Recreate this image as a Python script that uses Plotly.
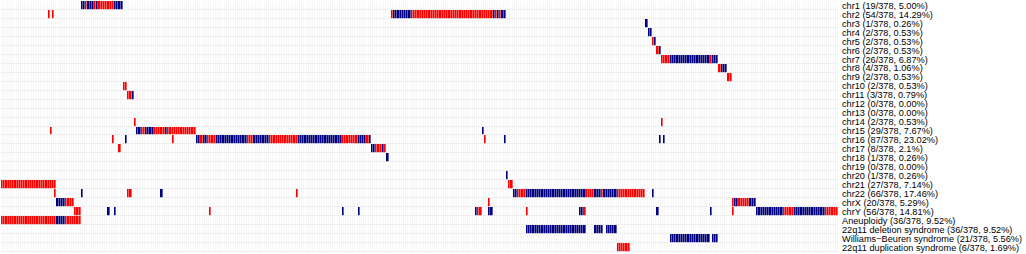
import plotly.graph_objects as go
import numpy as np

N_SAMPLES = 378

row_labels = [
    "chr1 (19/378, 5.00%)", "chr2 (54/378, 14.29%)", "chr3 (1/378, 0.26%)",
    "chr4 (2/378, 0.53%)", "chr5 (2/378, 0.53%)", "chr6 (2/378, 0.53%)",
    "chr7 (26/378, 6.87%)", "chr8 (4/378, 1.06%)", "chr9 (2/378, 0.53%)",
    "chr10 (2/378, 0.53%)", "chr11 (3/378, 0.79%)", "chr12 (0/378, 0.00%)",
    "chr13 (0/378, 0.00%)", "chr14 (2/378, 0.53%)", "chr15 (29/378, 7.67%)",
    "chr16 (87/378, 23.02%)", "chr17 (8/378, 2.1%)", "chr18 (1/378, 0.26%)",
    "chr19 (0/378, 0.00%)", "chr20 (1/378, 0.26%)", "chr21 (27/378, 7.14%)",
    "chr22 (66/378, 17.46%)", "chrX (20/378, 5.29%)", "chrY (56/378, 14.81%)",
    "Aneuploidy (36/378, 9.52%)", "22q11 deletion syndrome (36/378, 9.52%)",
    "Williams\u2212Beuren syndrome (21/378, 5.56%)",
    "22q11 duplication syndrome (6/378, 1.69%)",
]

# sample-index runs per row: (first sample, last sample, status) R = gain, B = loss
chr1 = [(36, 37, "B"), (38, 38, "R"), (39, 41, "B"), (42, 42, "R"), (43, 43, "B"),
        (44, 50, "R"), (51, 54, "B")]
chr2 = [(21, 21, "R"), (23, 23, "R"), (176, 176, "R"), (177, 184, "B"), (185, 221, "R"),
        (222, 222, "B"), (223, 223, "R"), (224, 224, "B"), (225, 225, "R"), (226, 227, "B")]
chr3 = [(291, 291, "B")]
chr4 = [(292, 293, "B")]
chr5 = [(294, 294, "R"), (295, 295, "B")]
chr6 = [(296, 296, "R"), (297, 297, "B")]
chr7 = [(298, 301, "R"), (302, 319, "B"), (320, 320, "R"), (321, 323, "B")]
chr8 = [(324, 324, "R"), (325, 327, "B")]
chr9 = [(328, 329, "R")]
chr10 = [(55, 56, "R")]
chr11 = [(57, 58, "R"), (59, 59, "B")]
chr12 = []
chr13 = []
chr14 = [(60, 60, "R"), (298, 298, "R")]
chr15 = [(22, 22, "R"), (61, 62, "B"), (63, 64, "R"), (65, 68, "B"), (69, 73, "R"),
         (74, 74, "B"), (75, 87, "R"), (217, 217, "B")]
chr16 = [(50, 50, "R"), (56, 56, "B"), (77, 77, "R"), (88, 89, "B"), (90, 90, "R"),
         (91, 92, "B"), (93, 96, "R"), (97, 110, "B"), (111, 113, "R"), (114, 120, "B"),
         (121, 133, "R"), (134, 153, "B"), (154, 160, "R"), (161, 164, "B"),
         (165, 165, "R"), (166, 166, "B"), (218, 218, "R"), (227, 227, "B"),
         (297, 297, "B"), (299, 299, "B")]
chr17 = [(53, 53, "R"), (167, 168, "B"), (169, 171, "R"), (172, 172, "B"), (173, 173, "R")]
chr18 = [(174, 174, "B")]
chr19 = []
chr20 = [(228, 228, "B")]
chr21 = [(0, 24, "R"), (229, 230, "R")]
chr22 = [(24, 24, "R"), (36, 36, "B"), (57, 58, "R"), (72, 72, "B"), (133, 133, "R"),
         (231, 232, "B"), (233, 236, "R"), (237, 263, "B"), (264, 267, "R"),
         (268, 270, "B"), (271, 271, "R"), (272, 277, "B"), (278, 290, "R"), (294, 294, "B")]
chrX = [(25, 28, "B"), (29, 32, "R"), (220, 220, "R"), (330, 330, "R"), (331, 332, "B"),
        (333, 337, "R"), (338, 340, "B")]
chrY = [(33, 35, "R"), (48, 48, "B"), (51, 51, "B"), (94, 94, "R"), (154, 154, "B"),
        (161, 161, "B"), (214, 214, "B"), (215, 216, "R"), (220, 221, "B"), (237, 237, "R"),
        (261, 262, "B"), (263, 263, "R"), (296, 296, "B"), (320, 320, "B"), (330, 330, "R"),
        (341, 352, "B"), (353, 357, "R"), (358, 371, "B"), (372, 377, "R")]
aneuploidy = [(0, 24, "R"), (25, 28, "B"), (29, 35, "R")]
del22q11 = [(237, 263, "B"), (268, 271, "B"), (273, 277, "B")]
williams_beuren = [(302, 319, "B"), (321, 323, "B")]
dup22q11 = [(278, 283, "R")]

rows = [chr1, chr2, chr3, chr4, chr5, chr6, chr7, chr8, chr9, chr10, chr11, chr12,
        chr13, chr14, chr15, chr16, chr17, chr18, chr19, chr20, chr21, chr22, chrX,
        chrY, aneuploidy, del22q11, williams_beuren, dup22q11]

code = {"R": 1, "B": 2}
z = np.zeros((len(rows), N_SAMPLES), dtype=int)
for r, segs in enumerate(rows):
    for a, b, s in segs:
        z[r, a:b + 1] = code[s]

fig = go.Figure(go.Heatmap(
    z=z, x=list(range(N_SAMPLES)), y=list(range(len(rows))),
    zmin=0, zmax=2,
    colorscale=[[0, "#ffffff"], [0.33, "#ffffff"], [0.33, "#ff0000"], [0.67, "#ff0000"],
                [0.67, "#000080"], [1, "#000080"]],
    showscale=False, xgap=0.4, ygap=0.8, hoverinfo="skip",
))
fig.update_layout(
    width=1026, height=254,
    margin=dict(l=1, r=188, t=0.5, b=1.5, autoexpand=False),
    paper_bgcolor="white", plot_bgcolor="#ebebeb",
    showlegend=False,
    font=dict(family="Liberation Sans, Arial", size=9.2, color="black"),
)
fig.update_xaxes(visible=False, range=[-0.5, N_SAMPLES - 0.5], showgrid=False,
                 zeroline=False, automargin=False)
fig.update_yaxes(range=[len(rows) - 0.5, -0.5], side="right", tickmode="array",
                 tickvals=list(range(len(rows))), ticktext=row_labels, automargin=False,
                 showgrid=False, zeroline=False, ticks="", ticklen=0, showline=False,
                 ticklabelstandoff=3)
fig.write_html(
    "out.html",
    config={"displayModeBar": False},
    post_script="document.body.style.margin='0';document.body.style.padding='0';"
                "document.body.style.overflow='hidden';",
)
